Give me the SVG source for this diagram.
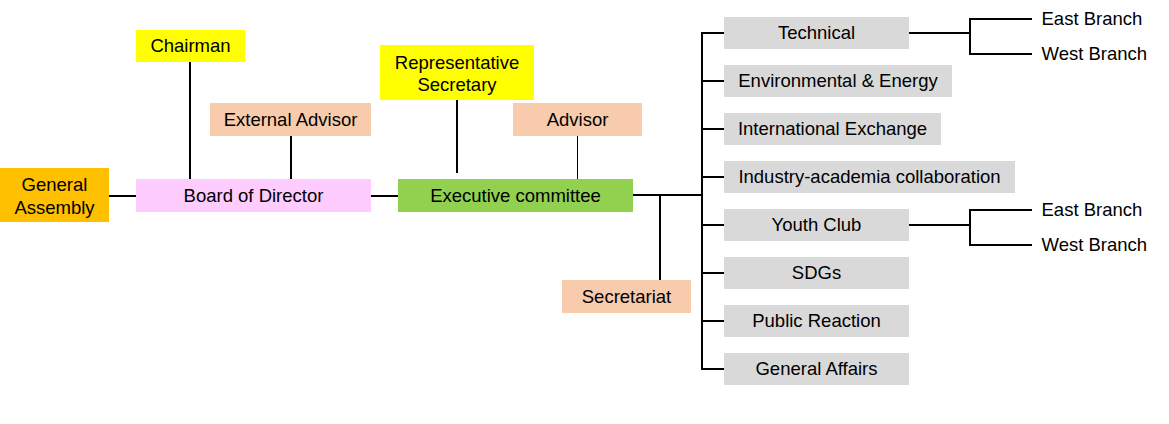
<svg xmlns="http://www.w3.org/2000/svg" width="1169" height="424" viewBox="0 0 1169 424">
<style>
text{font-family:"Liberation Sans",Arial,sans-serif;font-size:18.5px;fill:#000;text-anchor:middle}
.l{text-anchor:start}
.c{stroke:#000;stroke-width:2;fill:none}
.t{stroke:#000;stroke-width:1;fill:none}
.y{fill:#FFFF00}.p{fill:#F8CBAD}.o{fill:#FFC000}.m{fill:#FFCCFF}.g{fill:#92D050}.s{fill:#D9D9D9}
</style>
<rect width="1169" height="424" fill="#fff"/>
<g id="connectors">
<path class="c" d="M190 62V179M291 136V179M109 196H136M371 196H398M457 100V173M633 195H702M660 195V281M702 33V370M701 33H724M701 81H724M701 129H724M701 177H724M701 225H724M701 273H724M701 321H724M701 369H724M909 33H970M970 19V54M969 19H1032M969 54H1032M909 225H970M970 210V245M969 210H1032M969 245H1032"/>
<path class="t" d="M577.5 136V181"/>
</g>
<g id="chairman"><rect class="y" x="136" y="30" width="109" height="32"/><text x="190.5" y="52">Chairman</text></g>
<g id="external-advisor"><rect class="p" x="210" y="103" width="161" height="33"/><text x="290.5" y="125.5">External Advisor</text></g>
<g id="general-assembly"><rect class="o" x="0" y="168" width="109" height="54"/><text x="54.5" y="190.5">General</text><text x="54.5" y="213.5">Assembly</text></g>
<g id="board"><rect class="m" x="136" y="179" width="235" height="33"/><text x="253.5" y="201.5">Board of Director</text></g>
<g id="rep-secretary"><rect class="y" x="380" y="45" width="154" height="55"/><text x="457" y="68.5">Representative</text><text x="457" y="91">Secretary</text></g>
<g id="advisor"><rect class="p" x="513" y="103" width="129" height="33"/><text x="577.5" y="125.5">Advisor</text></g>
<g id="executive"><rect class="g" x="398" y="179" width="235" height="33"/><text x="515.5" y="201.5">Executive committee</text></g>
<g id="secretariat"><rect class="p" x="562" y="280" width="129" height="33"/><text x="626.5" y="302.5">Secretariat</text></g>
<g id="technical"><rect class="s" x="724" y="17" width="185" height="32"/><text x="816.5" y="39">Technical</text></g>
<g id="environmental"><rect class="s" x="724" y="65" width="228" height="32"/><text x="838" y="87">Environmental &amp; Energy</text></g>
<g id="international"><rect class="s" x="724" y="113" width="217" height="32"/><text x="832.5" y="135">International Exchange</text></g>
<g id="industry"><rect class="s" x="724" y="161" width="291" height="32"/><text x="869.5" y="183">Industry-academia collaboration</text></g>
<g id="youth"><rect class="s" x="724" y="209" width="185" height="32"/><text x="816.5" y="231">Youth Club</text></g>
<g id="sdgs"><rect class="s" x="724" y="257" width="185" height="32"/><text x="816.5" y="279">SDGs</text></g>
<g id="public"><rect class="s" x="724" y="305" width="185" height="32"/><text x="816.5" y="327">Public Reaction</text></g>
<g id="general-affairs"><rect class="s" x="724" y="353" width="185" height="32"/><text x="816.5" y="375">General Affairs</text></g>
<g id="tech-east"><text class="l" x="1041.5" y="25">East Branch</text></g>
<g id="tech-west"><text class="l" x="1041.5" y="60">West Branch</text></g>
<g id="youth-east"><text class="l" x="1041.5" y="216">East Branch</text></g>
<g id="youth-west"><text class="l" x="1041.5" y="251">West Branch</text></g>
</svg>
